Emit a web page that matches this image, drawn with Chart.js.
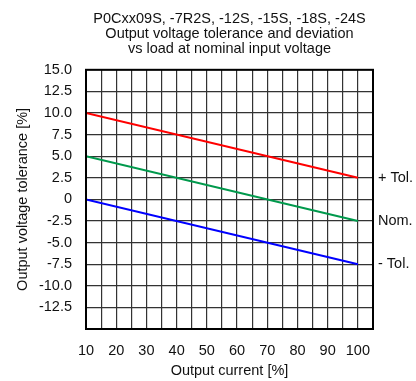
<!DOCTYPE html>
<html>
<head>
<meta charset="utf-8">
<script src="https://cdn.jsdelivr.net/npm/chart.js"></script>
<style>
  html, body { margin: 0; padding: 0; background: #fff; }
  #wrap { width: 416px; height: 381px; }
</style>
</head>
<body>
<div id="wrap"><canvas id="tolChart" width="416" height="381"></canvas></div>
<script>
    // data
    const loadPct = [10, 100];
    const plusTol = [10.0, 2.5];
    const nominal = [5.0, -2.5];
    const minusTol = [0.0, -7.5];
    const curveNames = ['+ Tol.', 'Nom.', '- Tol.'];
    const curveColors = ['#ff0000', '#00994c', '#0000ff'];
    const titleLines = ['P0Cxx09S, -7R2S, -12S, -15S, -18S, -24S',
        'Output voltage tolerance and deviation',
        'vs load at nominal input voltage'];

    const FONT = "'Liberation Sans', Arial, sans-serif";
    const FS = 14.5;

    function toPoints(ys) {
        return loadPct.map((x, i) => ({ x: x, y: ys[i] }));
    }

    // frame round the plot + the labels at the right end of each line
    const extras = {
        id: 'extras',
        afterDraw(chart) {
            const ctx = chart.ctx;
            const a = chart.chartArea;
            ctx.save();
            ctx.strokeStyle = '#000';
            ctx.lineWidth = 2;
            ctx.strokeRect(a.left, a.top, a.right - a.left, a.bottom - a.top);
            ctx.fillStyle = '#111';
            ctx.font = FS + 'px ' + FONT;
            ctx.textBaseline = 'middle';
            ctx.textAlign = 'left';
            chart.data.datasets.forEach((ds, i) => {
                const last = ds.data[ds.data.length - 1];
                const y = chart.scales.y.getPixelForValue(last.y);
                ctx.fillText(curveNames[i], a.right + 5, y);
            });
            ctx.restore();
        }
    };

    new Chart(document.getElementById('tolChart'), {
        type: 'scatter',
        data: {
            datasets: [plusTol, nominal, minusTol].map((ys, i) => ({
                label: curveNames[i],
                data: toPoints(ys),
                showLine: true,
                borderColor: curveColors[i],
                backgroundColor: curveColors[i],
                borderWidth: 2,
                pointRadius: 0
            }))
        },
        options: {
            responsive: false,
            animation: false,
            layout: { padding: { top: 4, right: 43, left: 8, bottom: 0 } },
            plugins: {
                legend: { display: false },
                tooltip: { enabled: false },
                title: {
                    display: true,
                    fullSize: false,
                    text: titleLines,
                    color: '#111',
                    font: { family: FONT, size: FS, weight: 'normal', lineHeight: 1.03 },
                    padding: { top: 8, bottom: 13 }
                }
            },
            scales: {
                x: {
                    type: 'linear',
                    min: 10,
                    max: 105,
                    border: { display: false },
                    grid: { color: '#333', lineWidth: 1.2, drawTicks: false },
                    afterFit: s => { s.height = 52; },
                    ticks: {
                        stepSize: 5,
                        padding: 13,
                        color: '#111',
                        font: { family: FONT, size: FS },
                        maxRotation: 0,
                        autoSkip: false,
                        callback: v => (v % 10 === 0 && v <= 100) ? String(v) : ''
                    },
                    title: {
                        display: true,
                        text: 'Output current [%]',
                        color: '#111',
                        font: { family: FONT, size: FS },
                        padding: { top: 4, bottom: 1 }
                    }
                },
                y: {
                    min: -15,
                    max: 15,
                    border: { display: false },
                    grid: { color: '#333', lineWidth: 1.2, drawTicks: false },
                    afterFit: s => { s.width = 78; },
                    ticks: {
                        stepSize: 2.5,
                        padding: 14,
                        color: '#111',
                        font: { family: FONT, size: FS },
                        autoSkip: false,
                        callback: v => v === -15 ? '' : (v === 0 ? '0' : v.toFixed(1))
                    },
                    title: {
                        display: true,
                        text: 'Output voltage tolerance [%]',
                        color: '#111',
                        font: { family: FONT, size: FS },
                        padding: { top: 6, bottom: 7 }
                    }
                }
            }
        },
        plugins: [extras]
    });
</script>
</body>
</html>
